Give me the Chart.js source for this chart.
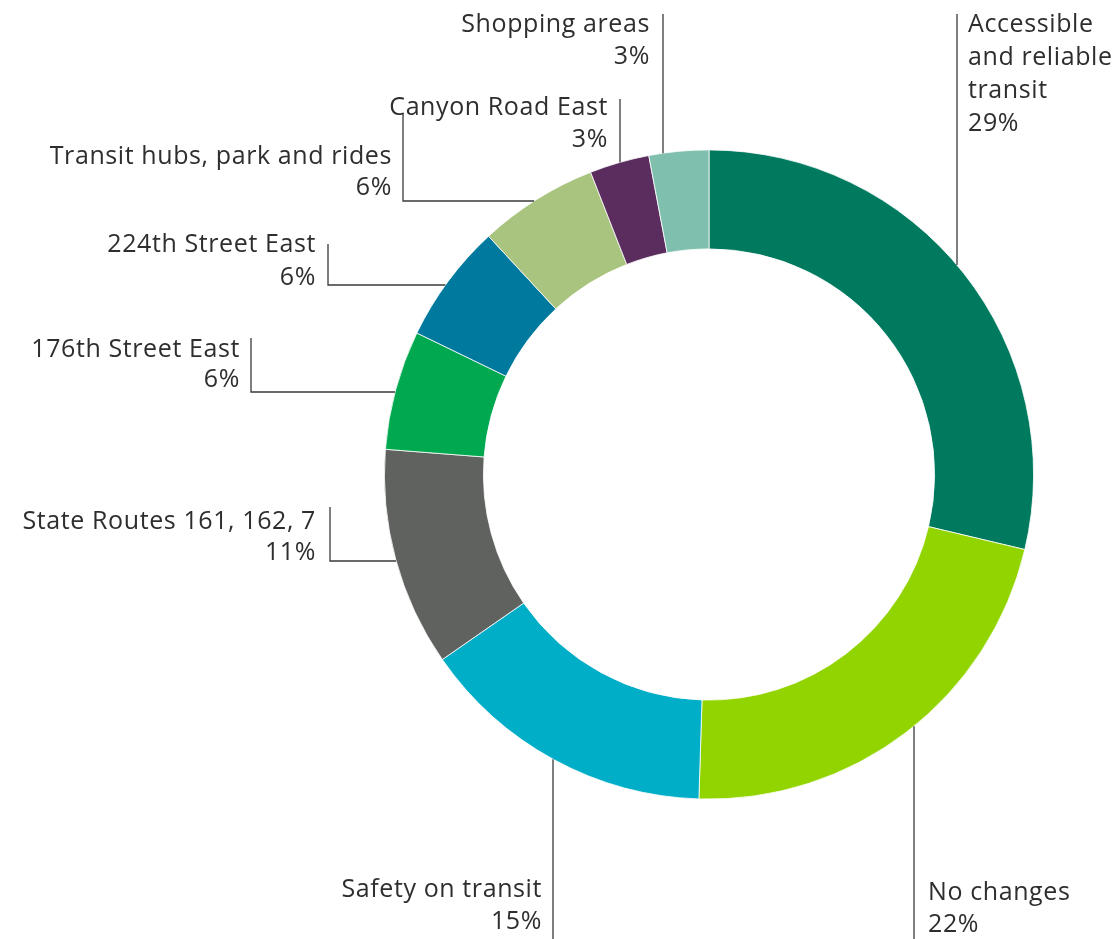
<!DOCTYPE html>
<html>
<head>
<meta charset="utf-8">
<title>Priorities</title>
<script src="https://cdn.jsdelivr.net/npm/chart.js@4"></script>
<style>
  body { margin: 0; background: #fff; }
  #wrap { width: 1120px; height: 939px; position: relative; }
</style>
</head>
<body>
<div id="wrap"><canvas id="myChart"></canvas></div>
<script>
// data
var categories = [
  'Accessible and reliable transit',
  'No changes',
  'Safety on transit',
  'State Routes 161, 162, 7',
  '176th Street East',
  '224th Street East',
  'Transit hubs, park and rides',
  'Canyon Road East',
  'Shopping areas'
];
var percents = [29, 22, 15, 11, 6, 6, 6, 3, 3];
var colors = ['#007a5e', '#92d400', '#00aec7', '#5f625e', '#00a94f', '#00799f', '#a9c47f', '#5b2d5f', '#7fbfae'];

// label text lines (name split as in the picture)
var labelLines = [
  ['Accessible', 'and reliable', 'transit'],
  ['No changes'],
  ['Safety on transit'],
  ['State Routes 161, 162, 7'],
  ['176th Street East'],
  ['224th Street East'],
  ['Transit hubs, park and rides'],
  ['Canyon Road East'],
  ['Shopping areas']
];

// where each label sits and how its leader runs to the ring
// kind: 'up' = vertical line from y0 down to ring, 'down' = ring down to y0,
// 'elbow' = vertical from y0 to y1 then across to ring
var labelLayout = [
  { align: 'left',  tx: 968, ty: 25,  lh: 33, kind: 'up',    lx: 957, y0: 14 },
  { align: 'left',  tx: 928, ty: 893, lh: 32, kind: 'down',  lx: 914, y0: 939 },
  { align: 'right', tx: 542, ty: 890, lh: 32, kind: 'down',  lx: 553, y0: 939 },
  { align: 'right', tx: 316, ty: 522, lh: 31, kind: 'elbow', lx: 330, y0: 507, y1: 561 },
  { align: 'right', tx: 240, ty: 350, lh: 30, kind: 'elbow', lx: 251, y0: 338, y1: 392 },
  { align: 'right', tx: 316, ty: 245, lh: 33, kind: 'elbow', lx: 328, y0: 244, y1: 285 },
  { align: 'right', tx: 392, ty: 157, lh: 31, kind: 'elbow', lx: 403, y0: 113, y1: 201 },
  { align: 'right', tx: 608, ty: 108, lh: 32, kind: 'up',    lx: 620, y0: 99 },
  { align: 'right', tx: 650, ty: 25,  lh: 32, kind: 'up',    lx: 663, y0: 14 }
];

var FONT = '25px "Open Sans", "Noto Sans", sans-serif';

var leaderLabels = {
  id: 'leaderLabels',
  afterDraw: function (chart) {
    var ctx = chart.ctx;
    var meta = chart.getDatasetMeta(0);
    ctx.save();
    ctx.strokeStyle = '#3a3a3a';
    ctx.lineWidth = 1.3;
    ctx.fillStyle = '#2e2e2e';
    ctx.font = FONT;
    ctx.letterSpacing = '0.6px';
    ctx.textBaseline = 'middle';
    meta.data.forEach(function (arc, i) {
      var L = labelLayout[i];
      var cx = arc.x, cy = arc.y, r = arc.outerRadius;
      ctx.beginPath();
      if (L.kind === 'up' || L.kind === 'down') {
        var dx = L.lx - cx;
        var dy = Math.sqrt(Math.max(r * r - dx * dx, 0));
        var ya = L.kind === 'up' ? cy - dy : cy + dy;
        ctx.moveTo(L.lx, L.y0);
        ctx.lineTo(L.lx, ya);
      } else {
        var dy2 = L.y1 - cy;
        var dx2 = Math.sqrt(Math.max(r * r - dy2 * dy2, 0));
        ctx.moveTo(L.lx, L.y0);
        ctx.lineTo(L.lx, L.y1);
        ctx.lineTo(cx - dx2, L.y1);
      }
      ctx.stroke();

      var lines = labelLines[i].concat([percents[i] + '%']);
      ctx.textAlign = L.align;
      lines.forEach(function (t, k) {
        ctx.fillText(t, L.tx, L.ty + k * L.lh);
      });
    });
    ctx.restore();
  }
};

var ctx = document.getElementById('myChart').getContext('2d');
var chart = new Chart(ctx, {
  type: 'doughnut',
  data: {
    labels: categories,
    datasets: [{
      data: percents,
      backgroundColor: colors,
      borderColor: '#ffffff',
      borderWidth: 0.8
    }]
  },
  options: {
    responsive: true,
    maintainAspectRatio: false,
    animation: false,
    cutout: '69.5%',
    layout: { padding: { top: 149, bottom: 139, left: 384, right: 86 } },
    plugins: {
      legend: { display: false },
      tooltip: { enabled: false }
    }
  },
  plugins: [leaderLabels]
});
</script>
</body>
</html>
